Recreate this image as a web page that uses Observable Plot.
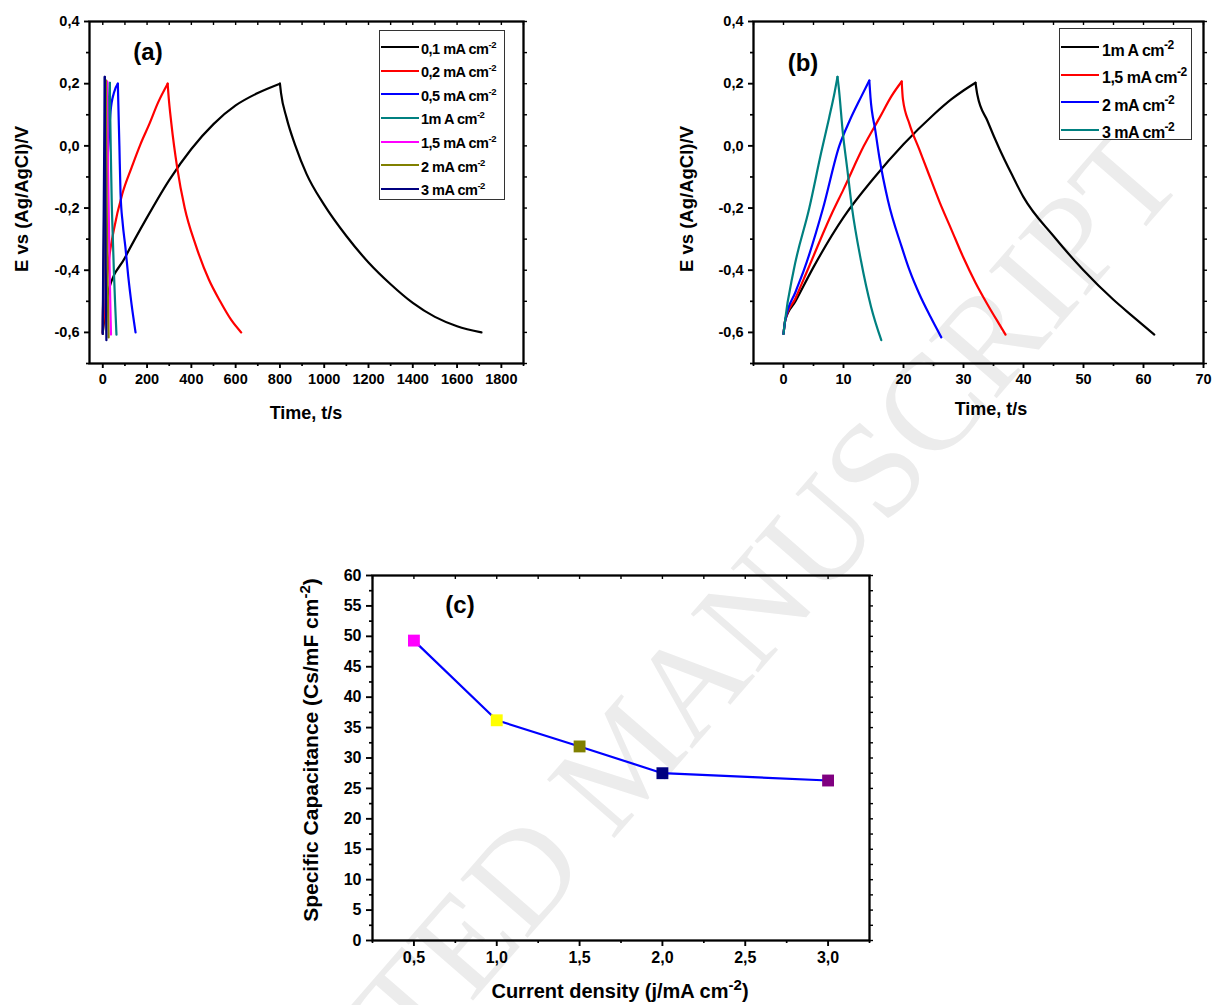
<!DOCTYPE html>
<html><head><meta charset="utf-8">
<script src="https://cdn.jsdelivr.net/npm/d3@7"></script>
<script src="https://cdn.jsdelivr.net/npm/@observablehq/plot@0.6"></script>
<style>
body{margin:0;background:#fff;font-family:"Liberation Sans",Arial,sans-serif;}
#root{position:relative;width:1215px;height:1005px;overflow:hidden;background:#fff;}
.panel{position:absolute;z-index:1;}
.txt{position:absolute;font-weight:bold;white-space:nowrap;color:#000;z-index:2;line-height:1;}
.leg{position:absolute;border:1px solid #333;background:#fff;z-index:3;}
.legline{position:absolute;height:0;border-top:2.6px solid #000;}
.legtxt{position:absolute;font-weight:bold;white-space:nowrap;line-height:1;letter-spacing:-0.5px;}
.wm{position:absolute;z-index:0;font-family:"Liberation Serif","DejaVu Serif",serif;color:#ececec;font-size:136px;white-space:nowrap;line-height:1;}
</style></head>
<body><div id="root"></div>
<script>
// ---------- DATA ----------
// panel (a): 0,1 / 0,2 / 0,5 mA cm-2 (time s, potential V)
const aT01 = [0, 25, 100, 200, 300, 400, 500, 600, 700, 800, 805, 830, 870, 920, 1000, 1100, 1200, 1300, 1400, 1500, 1600, 1710];
const aV01 = [-0.6, -0.47, -0.36, -0.23, -0.11, -0.01, 0.07, 0.13, 0.17, 0.2, 0.17, 0.09, 0.0, -0.09, -0.19, -0.29, -0.375, -0.445, -0.505, -0.55, -0.58, -0.6];
const aT02 = [0, 10, 27, 50, 88, 130, 170, 210, 250, 293, 296, 310, 336, 370, 420, 479, 530, 580, 625];
const aV02 = [-0.6, -0.5, -0.37, -0.27, -0.155, -0.07, 0.005, 0.07, 0.14, 0.2, 0.17, 0.07, -0.07, -0.2, -0.32, -0.43, -0.5, -0.56, -0.6];
const aT05 = [0, 5, 12, 20, 27, 35, 50, 68, 70, 75, 80, 90, 102, 115, 130, 148];
const aV05 = [-0.6, -0.4, -0.2, -0.06, 0.02, 0.11, 0.17, 0.2, 0.14, 0.0, -0.15, -0.25, -0.325, -0.42, -0.51, -0.6];
// panel (b) (also drawn in (a)): 1 / 1,5 / 2 / 3 mA cm-2
const bT1 = [0, 0.3, 2, 5, 10, 15, 20, 25, 28, 30, 32, 32.3, 34, 36, 38, 40, 45, 50, 55, 58, 61.8];
const bV1 = [-0.605, -0.56, -0.5, -0.39, -0.23, -0.105, 0.005, 0.1, 0.15, 0.178, 0.203, 0.165, 0.08, -0.01, -0.09, -0.165, -0.29, -0.4, -0.495, -0.545, -0.607];
const bT15 = [0, 0.3, 2, 4, 8, 10, 13.4, 16, 18, 19.7, 19.9, 21, 22.6, 24, 26, 28, 30, 32, 34, 36, 37];
const bV15 = [-0.605, -0.56, -0.49, -0.4, -0.22, -0.14, 0.0, 0.09, 0.16, 0.207, 0.15, 0.07, -0.01, -0.08, -0.18, -0.27, -0.36, -0.44, -0.51, -0.575, -0.607];
const bT2 = [0, 0.3, 2, 3.4, 6.6, 9.3, 11, 13, 14.3, 14.5, 15.3, 16, 17.4, 19.7, 21, 22.6, 24.5, 26.3];
const bV2 = [-0.605, -0.56, -0.47, -0.4, -0.2, 0.0, 0.08, 0.16, 0.21, 0.155, 0.05, -0.04, -0.175, -0.325, -0.4, -0.475, -0.55, -0.616];
const bT3 = [0, 0.2, 1.7, 4.3, 6.3, 7.6, 8.5, 9.0, 9.2, 9.9, 10.6, 11.4, 12.9, 14.6, 16.3];
const bV3 = [-0.605, -0.57, -0.4, -0.2, -0.02, 0.09, 0.17, 0.222, 0.19, 0.04, -0.07, -0.197, -0.368, -0.518, -0.625];
// panel (c)
const cJ = [0.5, 1.0, 1.5, 2.0, 3.0];
const cCs = [49.3, 36.2, 31.9, 27.5, 26.3];
// legend labels
const aLabels = ["0,1 mA cm", "0,2 mA cm", "0,5 mA cm", "1m A cm", "1,5 mA cm", "2 mA cm", "3 mA cm"];
const bLabels = ["1m A cm", "1,5 mA cm", "2 mA cm", "3 mA cm"];
const supText = "-2";
// colours
const aColors = ["#000000", "#ff0000", "#0000ff", "#008080", "#ff00ff", "#808000", "#000080"];
const bColors = ["#000000", "#ff0000", "#0000ff", "#008080"];
const cMarkerColors = ["#ff00ff", "#ffff00", "#808000", "#000080", "#800080"];
const cLineColor = "#0000ff";
// ticks
const vMajor = [-0.6, -0.4, -0.2, 0, 0.2, 0.4];
const vMinor = [-0.7, -0.5, -0.3, -0.1, 0.1, 0.3];
const aTimeMajor = [0, 200, 400, 600, 800, 1000, 1200, 1400, 1600, 1800];
const aTimeMinor = [100, 300, 500, 700, 900, 1100, 1300, 1500, 1700, 1900];
const bTimeMajor = [0, 10, 20, 30, 40, 50, 60, 70];
const bTimeMinor = [-5, 5, 15, 25, 35, 45, 55, 65];
const cYMajor = [0, 5, 10, 15, 20, 25, 30, 35, 40, 45, 50, 55, 60];
const cYMinor = [2.5, 7.5, 12.5, 17.5, 22.5, 27.5, 32.5, 37.5, 42.5, 47.5, 52.5, 57.5];
const cXMajor = [0.5, 1.0, 1.5, 2.0, 2.5, 3.0];
const cXMinor = [0.25, 0.75, 1.25, 1.75, 2.25, 2.75, 3.25];

// ---------- HELPERS ----------
const root = document.getElementById("root");
const comma1 = d => d.toFixed(1).replace(".", ",");
function seg(t, v, key) {
  const p = d3.maxIndex(v);
  const out = [];
  t.forEach((tt, i) => {
    if (i <= p) out.push({t: tt, v: v[i], z: key + "c"});
    if (i >= p) out.push({t: tt, v: v[i], z: key + "d"});
  });
  return out;
}
function place(node, left, top) {
  const d = document.createElement("div");
  d.className = "panel";
  d.style.left = left + "px"; d.style.top = top + "px";
  d.appendChild(node); root.appendChild(d);
}
function text(html, cx, cy, size, rotate) {
  const d = document.createElement("div");
  d.className = "txt";
  d.innerHTML = html;
  d.style.fontSize = size + "px";
  d.style.left = cx + "px"; d.style.top = cy + "px";
  d.style.transform = "translate(-50%,-50%)" + (rotate ? " rotate(" + rotate + "deg)" : "");
  root.appendChild(d);
}
function legend(box, labels, colors, opt) {
  const L = document.createElement("div");
  L.className = "leg";
  L.style.left = box[0] + "px"; L.style.top = box[1] + "px";
  L.style.width = box[2] + "px"; L.style.height = box[3] + "px";
  labels.forEach((lab, i) => {
    const y = opt.row0 + i * opt.gap;
    const ln = document.createElement("div");
    ln.className = "legline";
    ln.style.left = opt.l0 + "px"; ln.style.width = opt.lw + "px";
    ln.style.top = (y - 1.3) + "px"; ln.style.borderTopColor = colors[i];
    L.appendChild(ln);
    const tx = document.createElement("div");
    tx.className = "legtxt";
    tx.style.left = opt.tx + "px"; tx.style.top = (y - opt.fs * 0.55) + "px";
    tx.style.fontSize = opt.fs + "px";
    tx.innerHTML = lab + '<span style="font-size:' + opt.ss + 'px;vertical-align:' + opt.sr + 'px">' + supText + '</span>';
    L.appendChild(tx);
  });
  root.appendChild(L);
}
const baseStyle = {background: "transparent", fontFamily: "'Liberation Sans', Arial, sans-serif", fontWeight: "bold", color: "#000", overflow: "visible"};
function frameAxes(xMaj, xMin, yMaj, yMin, xFmt, yFmt, fs, ts) {
  return [
    Plot.axisX(xMaj, {anchor: "bottom", tickSize: ts, tickPadding: 5, tickFormat: xFmt, strokeWidth: 1.9, fontSize: fs, fontWeight: "bold", label: null}),
    Plot.axisX(xMin, {anchor: "bottom", tickSize: 3, strokeWidth: 1.7, fill: "none", label: null}),
    Plot.axisY(yMaj, {anchor: "left", tickSize: ts, tickPadding: 5, tickFormat: yFmt, strokeWidth: 1.9, fontSize: fs, fontWeight: "bold", label: null}),
    Plot.axisY(yMin, {anchor: "left", tickSize: 3, strokeWidth: 1.7, fill: "none", label: null}),
    Plot.axisX(xMaj.concat(xMin), {anchor: "top", tickSize: -3, strokeWidth: 1.4, fill: "none", label: null}),
    Plot.axisY(yMaj.concat(yMin), {anchor: "right", tickSize: 3, strokeWidth: 1.4, fill: "none", label: null}),
    Plot.frame({stroke: "#000", strokeWidth: 2.3})
  ];
}

// watermark
const wm = document.createElement("div");
wm.className = "wm";
wm.textContent = "ACCEPTED MANUSCRIPT";
wm.style.left = "623px"; wm.style.top = "758px";
wm.style.transform = "translate(-50%,-50%) rotate(-49deg)";
root.appendChild(wm);

// ---------- PANEL (a) ----------
const aSeries = [[aT01, aV01], [aT02, aV02], [aT05, aV05], [bT1, bV1], [bT15, bV15], [bT2, bV2], [bT3, bV3]];
const plotA = Plot.plot({
  width: 540, height: 430, marginLeft: 89, marginRight: 17, marginTop: 21, marginBottom: 67,
  x: {domain: [-60, 1900]}, y: {domain: [-0.7, 0.4]},
  style: baseStyle,
  marks: [
    ...aSeries.map((s, i) => Plot.line(seg(s[0], s[1], "a" + i), {x: "t", y: "v", z: "z", stroke: aColors[i], strokeWidth: 2.2, curve: "monotone-x"})),
    ...frameAxes(aTimeMajor, aTimeMinor, vMajor, vMinor, d => String(d), comma1, 14.5, 5)
  ]
});
place(plotA, 0, 0);

// ---------- PANEL (b) ----------
const bSeries = [[bT1, bV1], [bT15, bV15], [bT2, bV2], [bT3, bV3]];
const plotB = Plot.plot({
  width: 535, height: 430, marginLeft: 73, marginRight: 12, marginTop: 21, marginBottom: 67,
  x: {domain: [-5, 70]}, y: {domain: [-0.7, 0.4]},
  style: baseStyle,
  marks: [
    ...bSeries.map((s, i) => Plot.line(seg(s[0], s[1], "b" + i), {x: "t", y: "v", z: "z", stroke: bColors[i], strokeWidth: 2.2, curve: "monotone-x"})),
    ...frameAxes(bTimeMajor, bTimeMinor, vMajor, vMinor, d => String(d), comma1, 14.5, 5)
  ]
});
place(plotB, 680, 0);

// ---------- PANEL (c) ----------
const cData = cJ.map((j, i) => ({j, cs: cCs[i], col: cMarkerColors[i]}));
const plotC = Plot.plot({
  width: 600, height: 445, marginLeft: 92, marginRight: 11, marginTop: 15, marginBottom: 65,
  x: {domain: [0.25, 3.25]}, y: {domain: [0, 60]}, color: {type: "identity"},
  style: baseStyle,
  marks: [
    Plot.line(cData, {x: "j", y: "cs", stroke: cLineColor, strokeWidth: 2.2}),
    Plot.dot(cData, {x: "j", y: "cs", symbol: "square", r: 6.7, fill: "col", stroke: "none"}),
    ...frameAxes(cXMajor, cXMinor, cYMajor, cYMinor, comma1, d => String(d), 16, 6)
  ]
});
place(plotC, 280, 560);

// ---------- TITLES / LABELS ----------
text("E vs (Ag/AgCl)/V", 22, 199, 18.5, -90);
text("Time, t/s", 306, 413, 18);
text("(a)", 148, 52, 24);
text("E vs (Ag/AgCl)/V", 687, 199, 18.5, -90);
text("Time, t/s", 991, 409, 18);
text("(b)", 803, 63, 24);
text('Specific Capacitance (Cs/mF cm<span style="font-size:15px;vertical-align:8px">-2</span>)', 309, 750, 21, -90);
text('Current density (j/mA cm<span style="font-size:15px;vertical-align:8px">-2</span>)', 620, 989, 20);
text("(c)", 460, 605, 24);

// legends
legend([379, 30, 124, 168], aLabels, aColors, {row0: 16.5, gap: 23.6, l0: 1, lw: 38, tx: 41, fs: 14.5, ss: 9.5, sr: 6});
legend([1059, 28, 131, 110], bLabels, bColors, {row0: 18.5, gap: 27.5, l0: 1, lw: 38, tx: 42, fs: 16, ss: 12, sr: 7});
</script>
</body></html>
